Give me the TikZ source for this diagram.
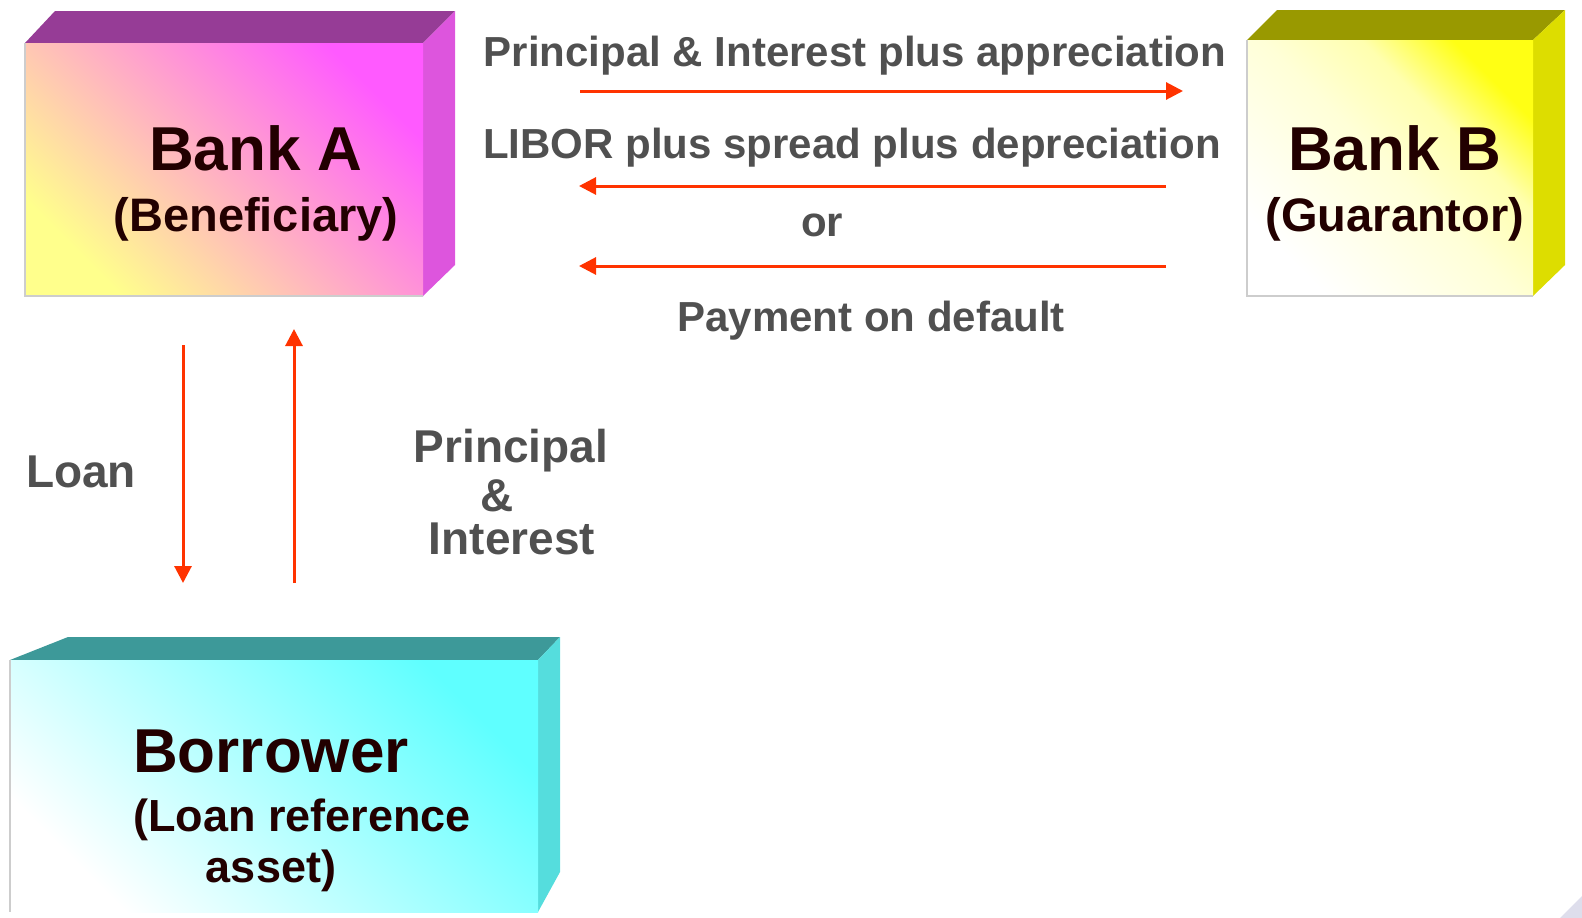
\documentclass[tikz,border=0pt]{standalone}
\usepackage{fontspec}
\setmainfont{Liberation Sans}
\usetikzlibrary{arrows.meta}
\definecolor{arr}{RGB}{255,51,0}
\definecolor{lbl}{RGB}{80,80,80}
\definecolor{dark}{RGB}{34,0,0}
\definecolor{topA}{RGB}{150,60,150}
\definecolor{sideA}{RGB}{221,85,221}
\definecolor{topB}{RGB}{153,153,0}
\definecolor{sideB}{RGB}{221,221,0}
\definecolor{topC}{RGB}{61,153,153}
\definecolor{sideC}{RGB}{85,221,221}
\definecolor{edge}{RGB}{205,205,205}
\definecolor{corner}{RGB}{222,222,236}
\definecolor{yBa}{RGB}{255,255,215}
\definecolor{yBb}{RGB}{255,255,175}
\definecolor{yBc}{RGB}{255,255,20}
\pgfdeclareverticalshading{shadeB}{100bp}{color(0bp)=(white); color(25bp)=(white); color(50bp)=(yBa); color(63bp)=(yBb); color(75bp)=(yBc); color(100bp)=(yBc)}
\begin{document}
\begin{tikzpicture}[x=1pt,y=-1pt,
  flow/.style={draw=arr, line width=3pt, -{Triangle[length=17pt,width=17pt]}},
  big/.style={font=\bfseries\fontsize{62}{70}\selectfont, text=dark, anchor=base, inner sep=0pt},
  sub/.style={font=\bfseries\fontsize{47}{54}\selectfont, text=dark, anchor=base, inner sep=0pt},
  subc/.style={font=\bfseries\fontsize{45}{52}\selectfont, text=dark, anchor=base, inner sep=0pt},
  lab/.style={font=\bfseries\fontsize{42}{50}\selectfont, text=lbl, anchor=base, inner sep=0pt},
  labb/.style={font=\bfseries\fontsize{46}{52}\selectfont, text=lbl, anchor=base, inner sep=0pt},
  face/.style={draw=edge, line width=1.5pt}]
\useasboundingbox (0,0) rectangle (1582,918);

% Bank A box
\fill[topA] (25,43) -- (55,11) -- (455,11) -- (423,43) -- cycle;
\fill[sideA] (423,43) -- (455,11) -- (455,265) -- (423,296) -- cycle;
\shade[top color={rgb,255:red,255;green,90;blue,255}, middle color={rgb,255:red,255;green,190;blue,215}, bottom color={rgb,255:red,255;green,255;blue,140}, shading angle=-45] (25,43) rectangle (423,296);
\draw[face] (25,43) -- (25,296) -- (423,296);
\node[inner sep=0pt, minimum width=398pt, minimum height=253pt] (bankA) at (224,170) {};

% Bank B box
\fill[topB] (1247,40) -- (1277,10) -- (1565,10) -- (1533,40) -- cycle;
\fill[sideB] (1533,40) -- (1565,10) -- (1565,265) -- (1533,296) -- cycle;
\shade[shading=shadeB, shading angle=-45] (1247,40) rectangle (1533,296);
\draw[face] (1247,40) -- (1247,296) -- (1533,296);
\node[inner sep=0pt, minimum width=286pt, minimum height=256pt] (bankB) at (1390,168) {};

% Borrower box
\fill[topC] (10,660) -- (68,637) -- (560,637) -- (538,660) -- cycle;
\fill[sideC] (538,660) -- (560,637) -- (560,872) -- (538,912) -- cycle;
\shade[top color={rgb,255:red,95;green,255;blue,255}, middle color={rgb,255:red,185;green,255;blue,255}, bottom color=white, shading angle=-45] (10,660) rectangle (538,912);
\draw[face] (10,660) -- (10,912);
\node[inner sep=0pt, minimum width=528pt, minimum height=252pt] (borrower) at (274,786) {};

% slide corner
\fill[corner] (1560,918) -- (1582,896) -- (1582,918) -- cycle;

% Box texts
\node[big] (ta1) at (256,170) {Bank A};
\node[sub] (ta2) at (256,231) {(Beneficiary)};
\node[big] (tb1) at (1395,170) {Bank B};
\node[sub] (tb2) at (1395,231) {(Guarantor)};
\node[big] (tc1) at (271,772) {Borrower};
\node[subc] (tc2) at (302,831) {(Loan reference};
\node[subc] (tc3) at (271,882) {asset)};

% Labels
\node[lab] (l1) at (855,66) {Principal \& Interest plus appreciation};
\node[lab] (l2) at (852,158) {LIBOR plus spread plus depreciation};
\node[lab] (l3) at (822,236) {or};
\node[lab] (l4) at (871,331) {Payment on default};
\node[labb] (l5) at (81,487) {Loan};
\node[labb] (l6) at (511,462) {Principal};
\node[labb] (l7) at (497,511) {\&};
\node[labb] (l8) at (512,554) {Interest};

% Arrow ends
\coordinate (a1s) at (580,91);  \coordinate (a1e) at (1183,91);
\coordinate (a2s) at (1166,186); \coordinate (a2e) at (579,186);
\coordinate (a3s) at (1166,266); \coordinate (a3e) at (579,266);
\coordinate (a4s) at (183,345); \coordinate (a4e) at (183,583);
\coordinate (a5s) at (294,583); \coordinate (a5e) at (294,329);

\draw[flow] (a1s) -- (a1e);
\draw[flow] (a2s) -- (a2e);
\draw[flow] (a3s) -- (a3e);
\draw[flow] (a4s) -- (a4e);
\draw[flow] (a5s) -- (a5e);
\end{tikzpicture}
\end{document}
